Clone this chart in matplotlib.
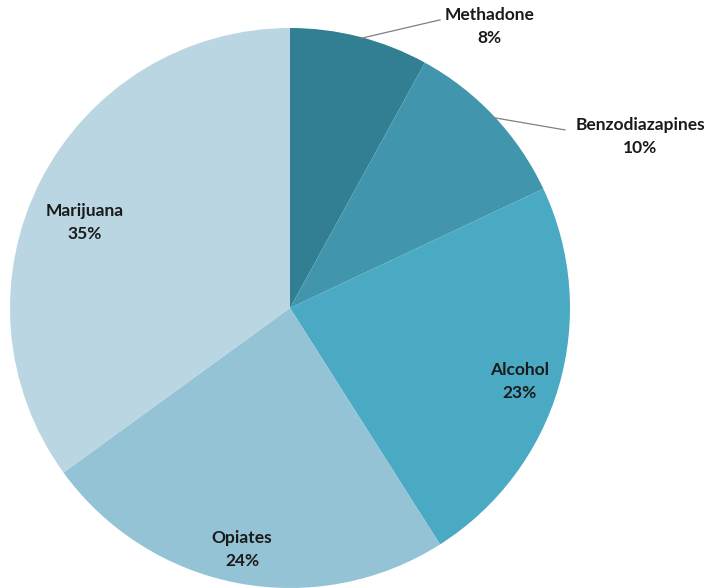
import matplotlib
matplotlib.use('Agg')
import matplotlib.pyplot as plt

drugs = ['Methadone', 'Benzodiazapines', 'Alcohol', 'Opiates', 'Marijuana']
pct = [8, 10, 23, 24, 35]
colors = ['#327f93', '#4196ad', '#4aaac4', '#94c3d5', '#bad6e2']

# label centres in data units (pie radius = 1)
label_xy = [(0.714, 1.004), (1.25, 0.614), (0.821, -0.264), (-0.171, -0.864), (-0.732, 0.304)]
# leader lines: (start on pie edge, end near text), None if label inside
leaders = [((0.257, 0.964), (0.536, 1.029)), ((0.732, 0.679), (0.982, 0.636)), None, None, None]

plt.rcParams['font.family'] = ['Lato', 'DejaVu Sans']

fig = plt.figure(figsize=(7.07, 5.88), dpi=100)
ax = fig.add_axes([10 / 707, 0, 560 / 707, 560 / 588])
ax.pie(pct, colors=colors, startangle=90, counterclock=False, radius=1,
       wedgeprops={'linewidth': 0})
ax.set_xlim(-1, 1)
ax.set_ylim(-1, 1)
ax.set_aspect('equal')
ax.axis('off')

for name, p, (x, y), ld in zip(drugs, pct, label_xy, leaders):
    ax.text(x, y, f'{name}\n{p}%', ha='center', va='center', fontsize=12.5,
            fontweight='bold', color='#1a1a1a', linespacing=1.55, clip_on=False)
    if ld is not None:
        (x0, y0), (x1, y1) = ld
        ax.plot([x0, x1], [y0, y1], color='#808080', lw=0.9, clip_on=False)

fig.savefig('out.png', dpi=100)
